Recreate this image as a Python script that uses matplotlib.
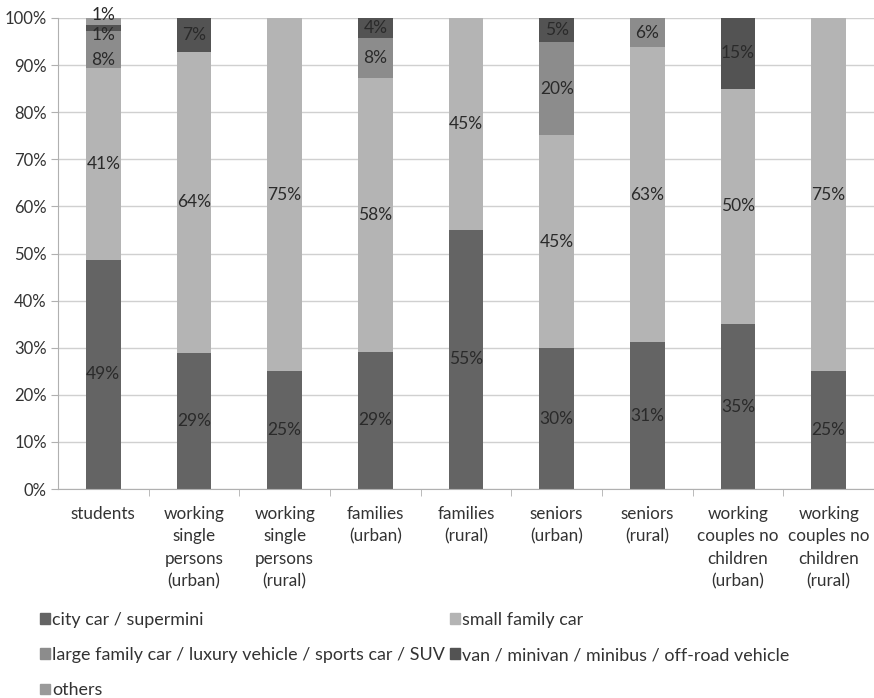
import numpy as np
import matplotlib.pyplot as plt
from matplotlib.patches import Patch

plt.rcParams['font.family'] = ['Lato', 'DejaVu Sans']

# ---- data (percent of each group) ----
groups = ["students",
          "working\nsingle\npersons\n(urban)",
          "working\nsingle\npersons\n(rural)",
          "families\n(urban)",
          "families\n(rural)",
          "seniors\n(urban)",
          "seniors\n(rural)",
          "working\ncouples no\nchildren\n(urban)",
          "working\ncouples no\nchildren\n(rural)"]
city   = [48.7, 28.9, 25.0, 29.1, 55.0, 29.9, 31.2, 35.0, 25.0]
small  = [40.7, 63.9, 75.0, 58.2, 45.0, 45.2, 62.6, 50.0, 75.0]
large  = [7.8, 0.0, 0.0, 8.4, 0.0, 19.8, 6.2, 0.0, 0.0]
van    = [1.3, 7.2, 0.0, 4.3, 0.0, 5.1, 0.0, 15.0, 0.0]
others = [1.4, 0.0, 0.0, 0.0, 0.0, 0.0, 0.0, 0.0, 0.0]

series_names = ["city car / supermini", "small family car",
                "large family car / luxury vehicle / sports car / SUV",
                "van / minivan / minibus / off-road vehicle", "others"]
colors = ["#646464", "#b4b4b4", "#8c8c8c", "#535353", "#9a9a9a"]

# students' tiny segments: labels were pushed apart in the original
students_label_y = {2: 91.0, 3: 96.4, 4: 100.6}

fig = plt.figure(figsize=(8.74, 6.98), dpi=100)
ax = fig.add_axes([58/874, 1 - 489/698, 1 - 58/874, (489 - 18)/698])

x = np.arange(len(groups))
bottom = np.zeros(len(groups))
for k, vals in enumerate([city, small, large, van, others]):
    vals = np.array(vals)
    ax.bar(x, vals, 0.385, bottom=bottom, color=colors[k], zorder=2)
    for i, v in enumerate(vals):
        if v <= 0:
            continue
        yy = bottom[i] + v / 2
        if i == 0 and k in students_label_y:
            yy = students_label_y[k]
        ax.text(x[i], yy, f"{round(v)}%", ha='center', va='center',
                fontsize=12.5, color='#2a2a2a', zorder=3)
    bottom += vals

ax.set_xlim(-0.5, len(groups) - 0.5)
ax.set_ylim(0, 100)
ax.set_yticks(np.arange(0, 101, 10))
ax.set_yticklabels([f"{t}%" for t in range(0, 101, 10)])
ax.set_xticks(x)
ax.set_xticklabels(groups, linespacing=1.5, va='top')
ax.set_xticks(np.arange(0.5, len(groups), 1), minor=True)
ax.tick_params(axis='x', which='major', length=0, pad=12, labelsize=12.3, labelcolor='#333333')
ax.tick_params(axis='x', which='minor', length=5, color='#b0b0b0')
ax.tick_params(axis='y', length=5, color='#b0b0b0', labelsize=12, labelcolor='#333333', pad=3)

ax.grid(axis='y', color='#d0d0d0', linewidth=1, zorder=0)
ax.set_axisbelow(True)
for s in ['top', 'right']:
    ax.spines[s].set_visible(False)
for s in ['left', 'bottom']:
    ax.spines[s].set_color('#b0b0b0')

# legend laid out row by row (matplotlib fills columns first)
order = [0, 2, 4, 1, 3]
handles = [Patch(color=colors[j]) for j in order]
labels = [series_names[j] for j in order]
fig.legend(handles, labels, ncol=2, loc='upper left',
           bbox_to_anchor=(31/874, 1 - 603/698), frameon=False, fontsize=12.9,
           handlelength=0.55, handleheight=0.55, handletextpad=0.15,
           columnspacing=0.25, labelspacing=1.07, borderpad=0, labelcolor='#333333')

fig.savefig("out.png", dpi=100)
